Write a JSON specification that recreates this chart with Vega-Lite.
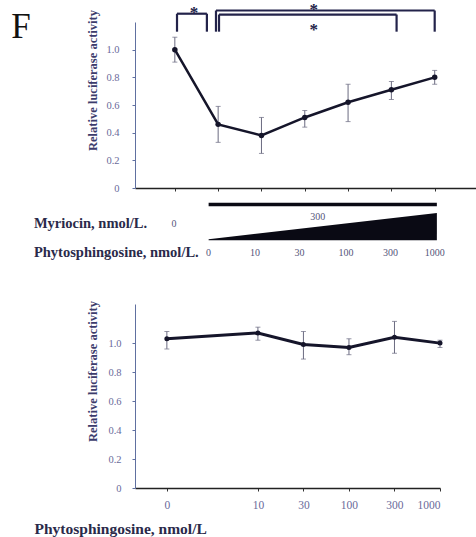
{
  "$schema": "https://vega.github.io/schema/vega-lite/v6.json",
  "background": "white",
  "padding": {"left": 11, "top": 0, "right": 0, "bottom": 0},
  "config": {"view": {"stroke": null}, "font": "Times New Roman, Liberation Serif, serif",
    "text": {"font": "Times New Roman, Liberation Serif, serif"},
    "axis": {"labelFont": "Times New Roman, Liberation Serif, serif", "titleFont": "Times New Roman, Liberation Serif, serif"}},
  "datasets": {
    "top": [
      {"idx": 0, "v": 1.0, "lo": 0.91, "hi": 1.09},
      {"idx": 1, "v": 0.46, "lo": 0.33, "hi": 0.59},
      {"idx": 2, "v": 0.38, "lo": 0.25, "hi": 0.51},
      {"idx": 3, "v": 0.51, "lo": 0.44, "hi": 0.56},
      {"idx": 4, "v": 0.62, "lo": 0.48, "hi": 0.75},
      {"idx": 5, "v": 0.71, "lo": 0.64, "hi": 0.77},
      {"idx": 6, "v": 0.80, "lo": 0.75, "hi": 0.85}
    ],
    "brackets": [
      {"x1": 0.05, "x2": 0.05, "y1": 1.13, "y2": 1.26},
      {"x1": 0.05, "x2": 0.74, "y1": 1.26, "y2": 1.26},
      {"x1": 0.74, "x2": 0.74, "y1": 1.13, "y2": 1.26},
      {"x1": 0.95, "x2": 0.95, "y1": 1.13, "y2": 1.283},
      {"x1": 0.95, "x2": 6.0, "y1": 1.283, "y2": 1.283},
      {"x1": 6.0, "x2": 6.0, "y1": 1.13, "y2": 1.283},
      {"x1": 1.02, "x2": 1.02, "y1": 1.13, "y2": 1.254},
      {"x1": 1.02, "x2": 5.12, "y1": 1.254, "y2": 1.254},
      {"x1": 5.12, "x2": 5.12, "y1": 1.13, "y2": 1.254}
    ],
    "stars": [
      {"x": 0.44, "y": 1.297},
      {"x": 3.21, "y": 1.319},
      {"x": 3.21, "y": 1.174}
    ],
    "wedge": [
      {"x": 0.78, "top": -0.37, "bot": -0.377},
      {"x": 6.05, "top": -0.181, "bot": -0.377}
    ],
    "bar": [{"x1": 0.78, "x2": 6.05, "y": -0.119}],
    "boldlabels": [
      {"x": -3.254, "y": -0.261, "t": "Myriocin, nmol/L."},
      {"x": -3.254, "y": -0.471, "t": "Phytosphingosine, nmol/L."}
    ],
    "smalllabels": [
      {"x": -0.02, "y": -0.261, "t": "0"},
      {"x": 3.3, "y": -0.21, "t": "300"},
      {"x": 0.78, "y": -0.471, "t": "0"},
      {"x": 1.85, "y": -0.471, "t": "10"},
      {"x": 2.88, "y": -0.471, "t": "30"},
      {"x": 3.95, "y": -0.471, "t": "100"},
      {"x": 4.98, "y": -0.471, "t": "300"},
      {"x": 6.0, "y": -0.471, "t": "1000"}
    ],
    "panel": [{"x": -3.55, "y": 1.167, "t": "F"}],
    "bottom": [
      {"idx": 0, "v": 1.03, "lo": 0.96, "hi": 1.08},
      {"idx": 2, "v": 1.07, "lo": 1.02, "hi": 1.11},
      {"idx": 3, "v": 0.99, "lo": 0.89, "hi": 1.08},
      {"idx": 4, "v": 0.97, "lo": 0.92, "hi": 1.03},
      {"idx": 5, "v": 1.04, "lo": 0.93, "hi": 1.15},
      {"idx": 6, "v": 1.0, "lo": 0.97, "hi": 1.02}
    ]
  },
  "resolve": {"scale": {"x": "independent", "y": "independent"}},
  "spacing": 40,
  "vconcat": [
    {
      "width": 343,
      "height": 166,
      "encoding": {
        "x": {"type": "quantitative", "scale": {"domain": [-0.92, 7.0], "nice": false, "zero": false},
          "axis": {"title": null, "labels": false, "values": [0, 1, 2, 3, 4, 5, 6], "tickSize": 3, "tickColor": "#333", "domainColor": "#222", "domainWidth": 1.5, "grid": false}},
        "y": {"type": "quantitative", "scale": {"domain": [0, 1.2], "nice": false, "zero": false},
          "axis": {"title": "Relative luciferase activity", "values": [0, 0.2, 0.4, 0.6, 0.8, 1.0],
            "labelExpr": "datum.value == 0 ? '0' : format(datum.value, '.1f')",
            "grid": false, "tickSize": 3, "tickColor": "#6070a0", "domainColor": "#6070a0", "labelColor": "#6a6a9a", "labelFontSize": 10.5, "labelPadding": 13,
            "titleFontSize": 12.5, "titleFontWeight": "bold", "titleColor": "#3c3c6c", "titleX": -43, "titleY": 58, "titleAngle": -90, "titleBaseline": "middle", "titleAlign": "center"}}
      },
      "layer": [
        {"data": {"name": "top"}, "mark": {"type": "rule", "color": "#6a6a80", "strokeWidth": 1},
          "encoding": {"x": {"field": "idx"}, "y": {"field": "lo"}, "y2": {"field": "hi"}}},
        {"data": {"name": "top"}, "mark": {"type": "tick", "orient": "horizontal", "color": "#6a6a80", "size": 5, "thickness": 1},
          "encoding": {"x": {"field": "idx"}, "y": {"field": "lo"}}},
        {"data": {"name": "top"}, "mark": {"type": "tick", "orient": "horizontal", "color": "#6a6a80", "size": 5, "thickness": 1},
          "encoding": {"x": {"field": "idx"}, "y": {"field": "hi"}}},
        {"data": {"name": "top"}, "mark": {"type": "line", "color": "#15152a", "strokeWidth": 2.5},
          "encoding": {"x": {"field": "idx"}, "y": {"field": "v"}}},
        {"data": {"name": "top"}, "mark": {"type": "point", "filled": true, "color": "#15152a", "size": 30, "opacity": 1},
          "encoding": {"x": {"field": "idx"}, "y": {"field": "v"}}},
        {"data": {"name": "brackets"}, "mark": {"type": "rule", "color": "#23234a", "strokeWidth": 2.2},
          "encoding": {"x": {"field": "x1"}, "x2": {"field": "x2"}, "y": {"field": "y1"}, "y2": {"field": "y2"}}},
        {"data": {"name": "stars"}, "mark": {"type": "text", "text": "*", "fontSize": 17, "fontWeight": "bold", "color": "#23234a", "baseline": "middle", "dy": 4},
          "encoding": {"x": {"field": "x"}, "y": {"field": "y"}}},
        {"data": {"name": "wedge"}, "mark": {"type": "area", "color": "#0a0a14", "opacity": 1},
          "encoding": {"x": {"field": "x"}, "y": {"field": "top"}, "y2": {"field": "bot"}}},
        {"data": {"name": "bar"}, "mark": {"type": "rule", "color": "#0a0a14", "strokeWidth": 3.5},
          "encoding": {"x": {"field": "x1"}, "x2": {"field": "x2"}, "y": {"field": "y"}}},
        {"data": {"name": "boldlabels"}, "mark": {"type": "text", "align": "left", "baseline": "middle", "fontSize": 14.5, "fontWeight": "bold", "color": "#2a2a4a"},
          "encoding": {"x": {"field": "x"}, "y": {"field": "y"}, "text": {"field": "t"}}},
        {"data": {"name": "smalllabels"}, "mark": {"type": "text", "align": "center", "baseline": "middle", "fontSize": 10, "color": "#55557a"},
          "encoding": {"x": {"field": "x"}, "y": {"field": "y"}, "text": {"field": "t"}}},
        {"data": {"name": "panel"}, "mark": {"type": "text", "align": "center", "baseline": "middle", "fontSize": 35, "color": "#111"},
          "encoding": {"x": {"field": "x"}, "y": {"field": "y"}, "text": {"field": "t"}}}
      ]
    },
    {
      "width": 305,
      "height": 184,
      "data": {"name": "bottom"},
      "encoding": {
        "x": {"field": "idx", "type": "quantitative", "scale": {"domain": [-0.7, 6.0], "nice": false, "zero": false},
          "axis": {"title": "Phytosphingosine, nmol/L", "values": [0, 2, 3, 4, 5, 6],
            "labelExpr": "datum.value == 0 ? '0' : datum.value == 2 ? '10' : datum.value == 3 ? '30' : datum.value == 4 ? '100' : datum.value == 5 ? '300' : '1000'",
            "grid": false, "tickSize": 3, "tickColor": "#333", "domainColor": "#222", "domainWidth": 1.5, "labelColor": "#6a6a9a", "labelFontSize": 11.5, "labelPadding": 8,
            "titleFontSize": 15.5, "titleFontWeight": "bold", "titleColor": "#2a2a4a", "titleX": -101, "titleY": 40, "titleAlign": "left", "titleAnchor": "start", "titleBaseline": "middle"}},
        "y": {"type": "quantitative", "scale": {"domain": [0, 1.27], "nice": false, "zero": false},
          "axis": {"title": "Relative luciferase activity", "values": [0, 0.2, 0.4, 0.6, 0.8, 1.0],
            "labelExpr": "datum.value == 0 ? '0' : format(datum.value, '.1f')",
            "grid": false, "tickSize": 3, "tickColor": "#6070a0", "domainColor": "#6070a0", "labelColor": "#6a6a9a", "labelFontSize": 10.5, "labelPadding": 11,
            "titleFontSize": 12.5, "titleFontWeight": "bold", "titleColor": "#3c3c6c", "titleX": -43, "titleY": 67, "titleAngle": -90, "titleBaseline": "middle", "titleAlign": "center"}}
      },
      "layer": [
        {"mark": {"type": "rule", "color": "#6a6a80", "strokeWidth": 1},
          "encoding": {"y": {"field": "lo"}, "y2": {"field": "hi"}}},
        {"mark": {"type": "tick", "orient": "horizontal", "color": "#6a6a80", "size": 5, "thickness": 1},
          "encoding": {"y": {"field": "lo"}}},
        {"mark": {"type": "tick", "orient": "horizontal", "color": "#6a6a80", "size": 5, "thickness": 1},
          "encoding": {"y": {"field": "hi"}}},
        {"mark": {"type": "line", "color": "#15152a", "strokeWidth": 3},
          "encoding": {"y": {"field": "v"}}},
        {"mark": {"type": "point", "filled": true, "color": "#15152a", "size": 25, "opacity": 1},
          "encoding": {"y": {"field": "v"}}}
      ]
    }
  ]
}
